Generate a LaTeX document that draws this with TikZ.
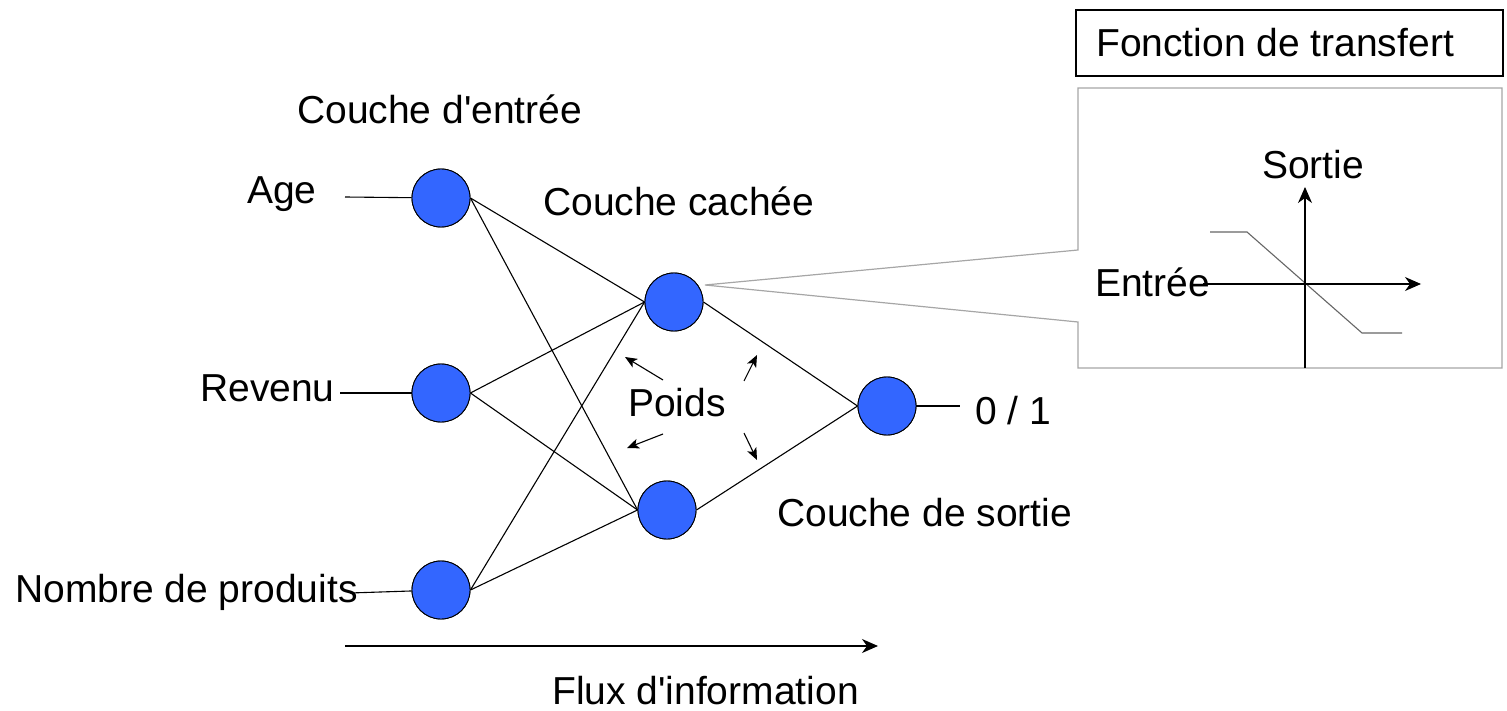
\documentclass[tikz,border=0pt]{standalone}
\usepackage{fontspec}
\setmainfont{Liberation Sans}
\usetikzlibrary{arrows.meta}
\definecolor{neuron}{RGB}{51,102,255}
\begin{document}
\begin{tikzpicture}[x=1pt,y=-1pt,
  neuronnode/.style={circle,draw=black,line width=0.9pt,fill=neuron,minimum size=58pt,inner sep=0pt},
  lbl/.style={inner sep=0pt,anchor=base west,font=\fontsize{39}{45}\selectfont},
  wire/.style={line width=1.1pt},
  bigarrow/.style={line width=1.3pt,-{Stealth[length=16pt,width=14pt,inset=5pt]}},
  smallarrow/.style={line width=1.1pt,-{Stealth[length=12pt,width=10pt,inset=3pt]}}]
\useasboundingbox (0,0) rectangle (1507,711);

% layers
\node[neuronnode] (i1) at (441,198) {};
\node[neuronnode] (i2) at (441,393) {};
\node[neuronnode] (i3) at (441,590) {};
\node[neuronnode] (h1) at (674,302) {};
\node[neuronnode] (h2) at (667,510) {};
\node[neuronnode] (o1) at (887,406) {};

% free ends of the input and output wires
\coordinate (a1) at (345,197);
\coordinate (a2) at (340,393);
\coordinate (a3) at (350,593);
\coordinate (b1) at (960,406);

% callout towards the transfer function
\coordinate (tip) at (705,285);
\draw[gray!70,line width=1.2pt] (tip) -- (1078,250) -- (1078,88) -- (1502,88) -- (1502,368)
  -- (1078,368) -- (1078,322) -- cycle;
\fill[white] (1079,251) rectangle (1501,367);

% connections: each layer leaves from the east point and enters at the west point
\foreach \s in {i1,i2,i3}{
  \draw[wire] (\s.east) -- (h1.west);
  \draw[wire] (\s.east) -- (h2.west);
}
\draw[wire] (h1.east) -- (o1.west);
\draw[wire] (h2.east) -- (o1.west);
\draw[wire] (a1) -- (i1);
\draw[wire] (a2) -- (i2);
\draw[wire] (a3) -- (i3);
\draw[wire] (o1) -- (b1);

% redraw neurons on top of the wires
\foreach \p in {{441,198},{441,393},{441,590},{674,302},{667,510},{887,406}}{
  \node[neuronnode] at (\p) {};
}

% labels
\node[lbl] (tIn) at (297,124) {Couche d\textquotesingle entrée};
\node[lbl] (tAge) at (247,204) {Age};
\node[lbl] (tRev) at (200,401) {Revenu};
\node[lbl] (tNb) at (15,602) {Nombre de produits};
\node[lbl] (tHid) at (543,216) {Couche cachée};
\node[lbl] (tW) at (628,416) {Poids};
\node[lbl] (tOut) at (975,424) {0 / 1};
\node[lbl] (tOl) at (777,526) {Couche de sortie};
\node[lbl] (tFlux) at (552,704) {Flux d\textquotesingle information};

% weight arrows
\coordinate (w1s) at (663,380); \coordinate (w1e) at (625,357);
\coordinate (w2s) at (663,434); \coordinate (w2e) at (627,448);
\coordinate (w3s) at (744,381); \coordinate (w3e) at (757,355);
\coordinate (w4s) at (744,433); \coordinate (w4e) at (757,460);
\draw[smallarrow] (w1s) -- (w1e);
\draw[smallarrow] (w2s) -- (w2e);
\draw[smallarrow] (w3s) -- (w3e);
\draw[smallarrow] (w4s) -- (w4e);

% information flow
\coordinate (f1) at (345,646);
\coordinate (f2) at (878,646);
\draw[bigarrow] (f1) -- (f2);

% transfer function title
\node[draw,line width=1.2pt,minimum width=427pt,minimum height=66pt,inner sep=0pt] (tfbox) at (1289.5,43) {};
\node[lbl] (tTf) at (1096,57) {Fonction de transfert};

% transfer function graph
\coordinate (vy0) at (1305,368);
\coordinate (vy1) at (1305,187);
\coordinate (hx0) at (1203,284);
\coordinate (hx1) at (1421,284);
\draw[gray!80!black,line width=1.1pt] (1210,232) -- (1247,232) -- (1362,333) -- (1402,333);
\draw[bigarrow,line width=1.1pt] (vy0) -- (vy1);
\draw[bigarrow,line width=1.1pt] (hx0) -- (hx1);
\node[lbl] (tSo) at (1262,179) {Sortie};
\node[lbl] (tEn) at (1095,297) {Entrée};
\end{tikzpicture}
\end{document}
